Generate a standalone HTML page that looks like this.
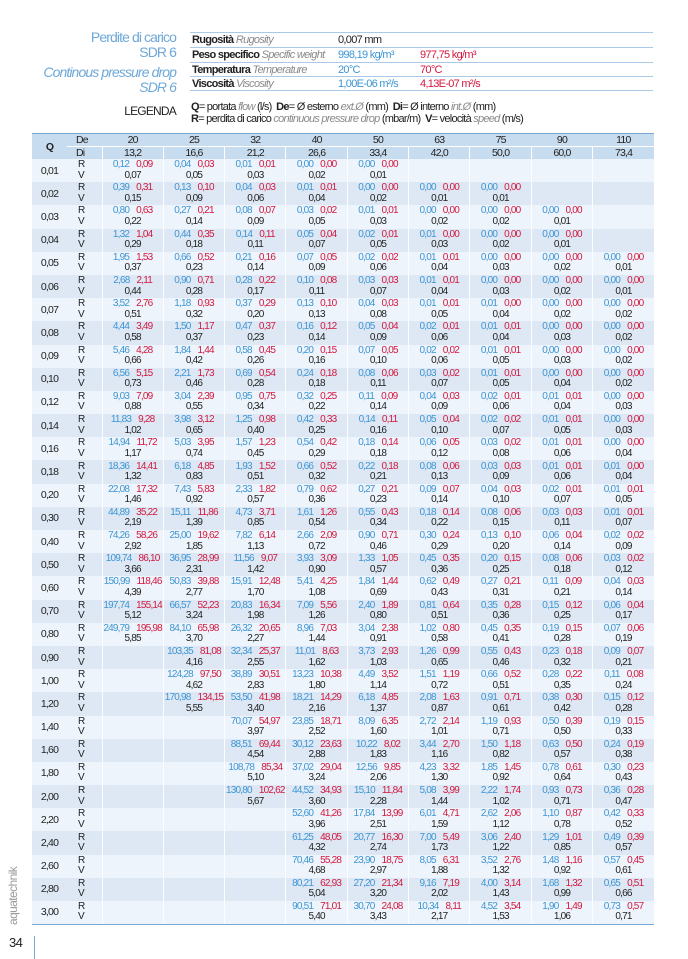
<!DOCTYPE html>
<html><head><meta charset="utf-8">
<style>
*{margin:0;padding:0;box-sizing:border-box}
body{width:688px;height:959px;background:#fff;position:relative;overflow:hidden;font-family:"Liberation Sans Narrow","Liberation Sans",sans-serif;color:#222;letter-spacing:-0.6px}
.lt{position:absolute;right:512px;color:#6ea8d8;font-size:14px;text-align:right;white-space:nowrap;line-height:15px;letter-spacing:-0.9px}
.it{font-style:italic}
#props{position:absolute;left:190px;top:32px;width:463px}
#props div{height:14.75px;border-top:1px solid #a9c9e6;font-size:11px;line-height:14px;position:relative;white-space:nowrap;letter-spacing:-0.7px}
#props div:last-child{border-bottom:1px solid #a9c9e6}
#props span{position:absolute;top:0}
.g{color:#8a8a8a;font-style:italic;font-weight:normal}
.bl{color:#3d95d4}.rd{color:#d3183f}
#leg{position:absolute;left:191px;top:101px;font-size:11px;line-height:12px;white-space:nowrap;letter-spacing:-0.75px}
#legl{position:absolute;right:512px;top:104px;font-size:12px;letter-spacing:-0.8px}
table{position:absolute;left:32px;top:133px;width:622px;border-collapse:collapse;table-layout:fixed;font-size:10px;letter-spacing:-0.8px}
td{padding:0;text-align:center;vertical-align:middle;overflow:hidden;white-space:nowrap}
thead td{background:#c8dcef;height:12.5px;line-height:12px;font-size:10.5px}
thead tr.de td{border-top:1.5px solid #7aa9d4}
thead tr.di td{border-top:1px solid #fff}
thead tr.di td.c{border-left:1px solid #fff}
tbody tr{height:23.2px}
tbody tr:nth-child(odd) td{background:#eef4fb}
tbody tr:nth-child(even) td{background:#dde8f4}
tbody td.c{border-left:1px solid #fbfdff;line-height:10.5px;padding-top:0}
tbody td.q{font-size:10.5px}
tbody td.rv{text-align:left;padding-left:11px;line-height:10.5px}
tbody tr:last-child td{border-bottom:1.5px solid #7aa9d4}
b{font-weight:normal;color:#3d95d4;margin-right:7px}
i{font-style:normal;color:#d3183f}
</style></head><body>
<div class="lt" style="top:30px">Perdite di carico</div>
<div class="lt" style="top:45px">SDR 6</div>
<div class="lt it" style="top:65px">Continous pressure drop</div>
<div class="lt it" style="top:80px">SDR 6</div>
<div id="props">
<div><span style="left:2px"><strong>Rugosità</strong> <span class="g" style="position:static">Rugosity</span></span><span style="left:148px">0,007 mm</span></div>
<div><span style="left:2px"><strong>Peso specifico</strong> <span class="g" style="position:static">Specific weight</span></span><span class="bl" style="left:148px">998,19 kg/m³</span><span class="rd" style="left:230px">977,75 kg/m³</span></div>
<div><span style="left:2px"><strong>Temperatura</strong> <span class="g" style="position:static">Temperature</span></span><span class="bl" style="left:148px">20°C</span><span class="rd" style="left:230px">70°C</span></div>
<div><span style="left:2px"><strong>Viscosità</strong> <span class="g" style="position:static">Viscosity</span></span><span class="bl" style="left:148px">1,00E-06 m²/s</span><span class="rd" style="left:230px">4,13E-07 m²/s</span></div>
</div>
<div id="legl">LEGENDA</div>
<div id="leg"><strong>Q</strong>= portata <span class="g">flow</span> (l/s) &nbsp;<strong>De</strong>= Ø esterno <span class="g">ext.Ø</span> (mm) &nbsp;<strong>Di</strong>= Ø interno <span class="g">int.Ø</span> (mm)<br><strong>R</strong>= perdita di carico <span class="g">continuous pressure drop</span> (mbar/m) &nbsp;<strong>V</strong>= velocità <span class="g">speed</span> (m/s)</div>
<div style="position:absolute;left:6px;top:925px;transform:rotate(-90deg);transform-origin:0 0;color:#9a9a9a;font-size:12px;white-space:nowrap">aquatechnik</div>
<div style="position:absolute;left:9px;top:935px;font-size:13px">34</div>
<div style="position:absolute;left:34px;top:936px;width:1px;height:23px;background:#6ea8d8"></div>
<table>
<colgroup><col style="width:35px"><col style="width:35px"><col span="9" style="width:61.33px"></colgroup>
<thead>
<tr class="de"><td rowspan="2" style="font-weight:bold">Q</td><td style="text-align:left;padding-left:9px">De</td><td>20</td><td>25</td><td>32</td><td>40</td><td>50</td><td>63</td><td>75</td><td>90</td><td>110</td></tr>
<tr class="di"><td style="text-align:left;padding-left:9px">Di</td><td class="c">13,2</td><td class="c">16,6</td><td class="c">21,2</td><td class="c">26,6</td><td class="c">33,4</td><td class="c">42,0</td><td class="c">50,0</td><td class="c">60,0</td><td class="c">73,4</td></tr>
</thead>
<tbody>
<tr><td class="q">0,01</td><td class="rv">R<br>V</td><td class="c"><b>0,12</b><i>0,09</i><br>0,07</td><td class="c"><b>0,04</b><i>0,03</i><br>0,05</td><td class="c"><b>0,01</b><i>0,01</i><br>0,03</td><td class="c"><b>0,00</b><i>0,00</i><br>0,02</td><td class="c"><b>0,00</b><i>0,00</i><br>0,01</td><td class="c"></td><td class="c"></td><td class="c"></td><td class="c"></td></tr>
<tr><td class="q">0,02</td><td class="rv">R<br>V</td><td class="c"><b>0,39</b><i>0,31</i><br>0,15</td><td class="c"><b>0,13</b><i>0,10</i><br>0,09</td><td class="c"><b>0,04</b><i>0,03</i><br>0,06</td><td class="c"><b>0,01</b><i>0,01</i><br>0,04</td><td class="c"><b>0,00</b><i>0,00</i><br>0,02</td><td class="c"><b>0,00</b><i>0,00</i><br>0,01</td><td class="c"><b>0,00</b><i>0,00</i><br>0,01</td><td class="c"></td><td class="c"></td></tr>
<tr><td class="q">0,03</td><td class="rv">R<br>V</td><td class="c"><b>0,80</b><i>0,63</i><br>0,22</td><td class="c"><b>0,27</b><i>0,21</i><br>0,14</td><td class="c"><b>0,08</b><i>0,07</i><br>0,09</td><td class="c"><b>0,03</b><i>0,02</i><br>0,05</td><td class="c"><b>0,01</b><i>0,01</i><br>0,03</td><td class="c"><b>0,00</b><i>0,00</i><br>0,02</td><td class="c"><b>0,00</b><i>0,00</i><br>0,02</td><td class="c"><b>0,00</b><i>0,00</i><br>0,01</td><td class="c"></td></tr>
<tr><td class="q">0,04</td><td class="rv">R<br>V</td><td class="c"><b>1,32</b><i>1,04</i><br>0,29</td><td class="c"><b>0,44</b><i>0,35</i><br>0,18</td><td class="c"><b>0,14</b><i>0,11</i><br>0,11</td><td class="c"><b>0,05</b><i>0,04</i><br>0,07</td><td class="c"><b>0,02</b><i>0,01</i><br>0,05</td><td class="c"><b>0,01</b><i>0,00</i><br>0,03</td><td class="c"><b>0,00</b><i>0,00</i><br>0,02</td><td class="c"><b>0,00</b><i>0,00</i><br>0,01</td><td class="c"></td></tr>
<tr><td class="q">0,05</td><td class="rv">R<br>V</td><td class="c"><b>1,95</b><i>1,53</i><br>0,37</td><td class="c"><b>0,66</b><i>0,52</i><br>0,23</td><td class="c"><b>0,21</b><i>0,16</i><br>0,14</td><td class="c"><b>0,07</b><i>0,05</i><br>0,09</td><td class="c"><b>0,02</b><i>0,02</i><br>0,06</td><td class="c"><b>0,01</b><i>0,01</i><br>0,04</td><td class="c"><b>0,00</b><i>0,00</i><br>0,03</td><td class="c"><b>0,00</b><i>0,00</i><br>0,02</td><td class="c"><b>0,00</b><i>0,00</i><br>0,01</td></tr>
<tr><td class="q">0,06</td><td class="rv">R<br>V</td><td class="c"><b>2,68</b><i>2,11</i><br>0,44</td><td class="c"><b>0,90</b><i>0,71</i><br>0,28</td><td class="c"><b>0,28</b><i>0,22</i><br>0,17</td><td class="c"><b>0,10</b><i>0,08</i><br>0,11</td><td class="c"><b>0,03</b><i>0,03</i><br>0,07</td><td class="c"><b>0,01</b><i>0,01</i><br>0,04</td><td class="c"><b>0,00</b><i>0,00</i><br>0,03</td><td class="c"><b>0,00</b><i>0,00</i><br>0,02</td><td class="c"><b>0,00</b><i>0,00</i><br>0,01</td></tr>
<tr><td class="q">0,07</td><td class="rv">R<br>V</td><td class="c"><b>3,52</b><i>2,76</i><br>0,51</td><td class="c"><b>1,18</b><i>0,93</i><br>0,32</td><td class="c"><b>0,37</b><i>0,29</i><br>0,20</td><td class="c"><b>0,13</b><i>0,10</i><br>0,13</td><td class="c"><b>0,04</b><i>0,03</i><br>0,08</td><td class="c"><b>0,01</b><i>0,01</i><br>0,05</td><td class="c"><b>0,01</b><i>0,00</i><br>0,04</td><td class="c"><b>0,00</b><i>0,00</i><br>0,02</td><td class="c"><b>0,00</b><i>0,00</i><br>0,02</td></tr>
<tr><td class="q">0,08</td><td class="rv">R<br>V</td><td class="c"><b>4,44</b><i>3,49</i><br>0,58</td><td class="c"><b>1,50</b><i>1,17</i><br>0,37</td><td class="c"><b>0,47</b><i>0,37</i><br>0,23</td><td class="c"><b>0,16</b><i>0,12</i><br>0,14</td><td class="c"><b>0,05</b><i>0,04</i><br>0,09</td><td class="c"><b>0,02</b><i>0,01</i><br>0,06</td><td class="c"><b>0,01</b><i>0,01</i><br>0,04</td><td class="c"><b>0,00</b><i>0,00</i><br>0,03</td><td class="c"><b>0,00</b><i>0,00</i><br>0,02</td></tr>
<tr><td class="q">0,09</td><td class="rv">R<br>V</td><td class="c"><b>5,46</b><i>4,28</i><br>0,66</td><td class="c"><b>1,84</b><i>1,44</i><br>0,42</td><td class="c"><b>0,58</b><i>0,45</i><br>0,26</td><td class="c"><b>0,20</b><i>0,15</i><br>0,16</td><td class="c"><b>0,07</b><i>0,05</i><br>0,10</td><td class="c"><b>0,02</b><i>0,02</i><br>0,06</td><td class="c"><b>0,01</b><i>0,01</i><br>0,05</td><td class="c"><b>0,00</b><i>0,00</i><br>0,03</td><td class="c"><b>0,00</b><i>0,00</i><br>0,02</td></tr>
<tr><td class="q">0,10</td><td class="rv">R<br>V</td><td class="c"><b>6,56</b><i>5,15</i><br>0,73</td><td class="c"><b>2,21</b><i>1,73</i><br>0,46</td><td class="c"><b>0,69</b><i>0,54</i><br>0,28</td><td class="c"><b>0,24</b><i>0,18</i><br>0,18</td><td class="c"><b>0,08</b><i>0,06</i><br>0,11</td><td class="c"><b>0,03</b><i>0,02</i><br>0,07</td><td class="c"><b>0,01</b><i>0,01</i><br>0,05</td><td class="c"><b>0,00</b><i>0,00</i><br>0,04</td><td class="c"><b>0,00</b><i>0,00</i><br>0,02</td></tr>
<tr><td class="q">0,12</td><td class="rv">R<br>V</td><td class="c"><b>9,03</b><i>7,09</i><br>0,88</td><td class="c"><b>3,04</b><i>2,39</i><br>0,55</td><td class="c"><b>0,95</b><i>0,75</i><br>0,34</td><td class="c"><b>0,32</b><i>0,25</i><br>0,22</td><td class="c"><b>0,11</b><i>0,09</i><br>0,14</td><td class="c"><b>0,04</b><i>0,03</i><br>0,09</td><td class="c"><b>0,02</b><i>0,01</i><br>0,06</td><td class="c"><b>0,01</b><i>0,01</i><br>0,04</td><td class="c"><b>0,00</b><i>0,00</i><br>0,03</td></tr>
<tr><td class="q">0,14</td><td class="rv">R<br>V</td><td class="c"><b>11,83</b><i>9,28</i><br>1,02</td><td class="c"><b>3,98</b><i>3,12</i><br>0,65</td><td class="c"><b>1,25</b><i>0,98</i><br>0,40</td><td class="c"><b>0,42</b><i>0,33</i><br>0,25</td><td class="c"><b>0,14</b><i>0,11</i><br>0,16</td><td class="c"><b>0,05</b><i>0,04</i><br>0,10</td><td class="c"><b>0,02</b><i>0,02</i><br>0,07</td><td class="c"><b>0,01</b><i>0,01</i><br>0,05</td><td class="c"><b>0,00</b><i>0,00</i><br>0,03</td></tr>
<tr><td class="q">0,16</td><td class="rv">R<br>V</td><td class="c"><b>14,94</b><i>11,72</i><br>1,17</td><td class="c"><b>5,03</b><i>3,95</i><br>0,74</td><td class="c"><b>1,57</b><i>1,23</i><br>0,45</td><td class="c"><b>0,54</b><i>0,42</i><br>0,29</td><td class="c"><b>0,18</b><i>0,14</i><br>0,18</td><td class="c"><b>0,06</b><i>0,05</i><br>0,12</td><td class="c"><b>0,03</b><i>0,02</i><br>0,08</td><td class="c"><b>0,01</b><i>0,01</i><br>0,06</td><td class="c"><b>0,00</b><i>0,00</i><br>0,04</td></tr>
<tr><td class="q">0,18</td><td class="rv">R<br>V</td><td class="c"><b>18,36</b><i>14,41</i><br>1,32</td><td class="c"><b>6,18</b><i>4,85</i><br>0,83</td><td class="c"><b>1,93</b><i>1,52</i><br>0,51</td><td class="c"><b>0,66</b><i>0,52</i><br>0,32</td><td class="c"><b>0,22</b><i>0,18</i><br>0,21</td><td class="c"><b>0,08</b><i>0,06</i><br>0,13</td><td class="c"><b>0,03</b><i>0,03</i><br>0,09</td><td class="c"><b>0,01</b><i>0,01</i><br>0,06</td><td class="c"><b>0,01</b><i>0,00</i><br>0,04</td></tr>
<tr><td class="q">0,20</td><td class="rv">R<br>V</td><td class="c"><b>22,08</b><i>17,32</i><br>1,46</td><td class="c"><b>7,43</b><i>5,83</i><br>0,92</td><td class="c"><b>2,33</b><i>1,82</i><br>0,57</td><td class="c"><b>0,79</b><i>0,62</i><br>0,36</td><td class="c"><b>0,27</b><i>0,21</i><br>0,23</td><td class="c"><b>0,09</b><i>0,07</i><br>0,14</td><td class="c"><b>0,04</b><i>0,03</i><br>0,10</td><td class="c"><b>0,02</b><i>0,01</i><br>0,07</td><td class="c"><b>0,01</b><i>0,01</i><br>0,05</td></tr>
<tr><td class="q">0,30</td><td class="rv">R<br>V</td><td class="c"><b>44,89</b><i>35,22</i><br>2,19</td><td class="c"><b>15,11</b><i>11,86</i><br>1,39</td><td class="c"><b>4,73</b><i>3,71</i><br>0,85</td><td class="c"><b>1,61</b><i>1,26</i><br>0,54</td><td class="c"><b>0,55</b><i>0,43</i><br>0,34</td><td class="c"><b>0,18</b><i>0,14</i><br>0,22</td><td class="c"><b>0,08</b><i>0,06</i><br>0,15</td><td class="c"><b>0,03</b><i>0,03</i><br>0,11</td><td class="c"><b>0,01</b><i>0,01</i><br>0,07</td></tr>
<tr><td class="q">0,40</td><td class="rv">R<br>V</td><td class="c"><b>74,26</b><i>58,26</i><br>2,92</td><td class="c"><b>25,00</b><i>19,62</i><br>1,85</td><td class="c"><b>7,82</b><i>6,14</i><br>1,13</td><td class="c"><b>2,66</b><i>2,09</i><br>0,72</td><td class="c"><b>0,90</b><i>0,71</i><br>0,46</td><td class="c"><b>0,30</b><i>0,24</i><br>0,29</td><td class="c"><b>0,13</b><i>0,10</i><br>0,20</td><td class="c"><b>0,06</b><i>0,04</i><br>0,14</td><td class="c"><b>0,02</b><i>0,02</i><br>0,09</td></tr>
<tr><td class="q">0,50</td><td class="rv">R<br>V</td><td class="c"><b>109,74</b><i>86,10</i><br>3,66</td><td class="c"><b>36,95</b><i>28,99</i><br>2,31</td><td class="c"><b>11,56</b><i>9,07</i><br>1,42</td><td class="c"><b>3,93</b><i>3,09</i><br>0,90</td><td class="c"><b>1,33</b><i>1,05</i><br>0,57</td><td class="c"><b>0,45</b><i>0,35</i><br>0,36</td><td class="c"><b>0,20</b><i>0,15</i><br>0,25</td><td class="c"><b>0,08</b><i>0,06</i><br>0,18</td><td class="c"><b>0,03</b><i>0,02</i><br>0,12</td></tr>
<tr><td class="q">0,60</td><td class="rv">R<br>V</td><td class="c"><b>150,99</b><i>118,46</i><br>4,39</td><td class="c"><b>50,83</b><i>39,88</i><br>2,77</td><td class="c"><b>15,91</b><i>12,48</i><br>1,70</td><td class="c"><b>5,41</b><i>4,25</i><br>1,08</td><td class="c"><b>1,84</b><i>1,44</i><br>0,69</td><td class="c"><b>0,62</b><i>0,49</i><br>0,43</td><td class="c"><b>0,27</b><i>0,21</i><br>0,31</td><td class="c"><b>0,11</b><i>0,09</i><br>0,21</td><td class="c"><b>0,04</b><i>0,03</i><br>0,14</td></tr>
<tr><td class="q">0,70</td><td class="rv">R<br>V</td><td class="c"><b>197,74</b><i>155,14</i><br>5,12</td><td class="c"><b>66,57</b><i>52,23</i><br>3,24</td><td class="c"><b>20,83</b><i>16,34</i><br>1,98</td><td class="c"><b>7,09</b><i>5,56</i><br>1,26</td><td class="c"><b>2,40</b><i>1,89</i><br>0,80</td><td class="c"><b>0,81</b><i>0,64</i><br>0,51</td><td class="c"><b>0,35</b><i>0,28</i><br>0,36</td><td class="c"><b>0,15</b><i>0,12</i><br>0,25</td><td class="c"><b>0,06</b><i>0,04</i><br>0,17</td></tr>
<tr><td class="q">0,80</td><td class="rv">R<br>V</td><td class="c"><b>249,79</b><i>195,98</i><br>5,85</td><td class="c"><b>84,10</b><i>65,98</i><br>3,70</td><td class="c"><b>26,32</b><i>20,65</i><br>2,27</td><td class="c"><b>8,96</b><i>7,03</i><br>1,44</td><td class="c"><b>3,04</b><i>2,38</i><br>0,91</td><td class="c"><b>1,02</b><i>0,80</i><br>0,58</td><td class="c"><b>0,45</b><i>0,35</i><br>0,41</td><td class="c"><b>0,19</b><i>0,15</i><br>0,28</td><td class="c"><b>0,07</b><i>0,06</i><br>0,19</td></tr>
<tr><td class="q">0,90</td><td class="rv">R<br>V</td><td class="c"></td><td class="c"><b>103,35</b><i>81,08</i><br>4,16</td><td class="c"><b>32,34</b><i>25,37</i><br>2,55</td><td class="c"><b>11,01</b><i>8,63</i><br>1,62</td><td class="c"><b>3,73</b><i>2,93</i><br>1,03</td><td class="c"><b>1,26</b><i>0,99</i><br>0,65</td><td class="c"><b>0,55</b><i>0,43</i><br>0,46</td><td class="c"><b>0,23</b><i>0,18</i><br>0,32</td><td class="c"><b>0,09</b><i>0,07</i><br>0,21</td></tr>
<tr><td class="q">1,00</td><td class="rv">R<br>V</td><td class="c"></td><td class="c"><b>124,28</b><i>97,50</i><br>4,62</td><td class="c"><b>38,89</b><i>30,51</i><br>2,83</td><td class="c"><b>13,23</b><i>10,38</i><br>1,80</td><td class="c"><b>4,49</b><i>3,52</i><br>1,14</td><td class="c"><b>1,51</b><i>1,19</i><br>0,72</td><td class="c"><b>0,66</b><i>0,52</i><br>0,51</td><td class="c"><b>0,28</b><i>0,22</i><br>0,35</td><td class="c"><b>0,11</b><i>0,08</i><br>0,24</td></tr>
<tr><td class="q">1,20</td><td class="rv">R<br>V</td><td class="c"></td><td class="c"><b>170,98</b><i>134,15</i><br>5,55</td><td class="c"><b>53,50</b><i>41,98</i><br>3,40</td><td class="c"><b>18,21</b><i>14,29</i><br>2,16</td><td class="c"><b>6,18</b><i>4,85</i><br>1,37</td><td class="c"><b>2,08</b><i>1,63</i><br>0,87</td><td class="c"><b>0,91</b><i>0,71</i><br>0,61</td><td class="c"><b>0,38</b><i>0,30</i><br>0,42</td><td class="c"><b>0,15</b><i>0,12</i><br>0,28</td></tr>
<tr><td class="q">1,40</td><td class="rv">R<br>V</td><td class="c"></td><td class="c"></td><td class="c"><b>70,07</b><i>54,97</i><br>3,97</td><td class="c"><b>23,85</b><i>18,71</i><br>2,52</td><td class="c"><b>8,09</b><i>6,35</i><br>1,60</td><td class="c"><b>2,72</b><i>2,14</i><br>1,01</td><td class="c"><b>1,19</b><i>0,93</i><br>0,71</td><td class="c"><b>0,50</b><i>0,39</i><br>0,50</td><td class="c"><b>0,19</b><i>0,15</i><br>0,33</td></tr>
<tr><td class="q">1,60</td><td class="rv">R<br>V</td><td class="c"></td><td class="c"></td><td class="c"><b>88,51</b><i>69,44</i><br>4,54</td><td class="c"><b>30,12</b><i>23,63</i><br>2,88</td><td class="c"><b>10,22</b><i>8,02</i><br>1,83</td><td class="c"><b>3,44</b><i>2,70</i><br>1,16</td><td class="c"><b>1,50</b><i>1,18</i><br>0,82</td><td class="c"><b>0,63</b><i>0,50</i><br>0,57</td><td class="c"><b>0,24</b><i>0,19</i><br>0,38</td></tr>
<tr><td class="q">1,80</td><td class="rv">R<br>V</td><td class="c"></td><td class="c"></td><td class="c"><b>108,78</b><i>85,34</i><br>5,10</td><td class="c"><b>37,02</b><i>29,04</i><br>3,24</td><td class="c"><b>12,56</b><i>9,85</i><br>2,06</td><td class="c"><b>4,23</b><i>3,32</i><br>1,30</td><td class="c"><b>1,85</b><i>1,45</i><br>0,92</td><td class="c"><b>0,78</b><i>0,61</i><br>0,64</td><td class="c"><b>0,30</b><i>0,23</i><br>0,43</td></tr>
<tr><td class="q">2,00</td><td class="rv">R<br>V</td><td class="c"></td><td class="c"></td><td class="c"><b>130,80</b><i>102,62</i><br>5,67</td><td class="c"><b>44,52</b><i>34,93</i><br>3,60</td><td class="c"><b>15,10</b><i>11,84</i><br>2,28</td><td class="c"><b>5,08</b><i>3,99</i><br>1,44</td><td class="c"><b>2,22</b><i>1,74</i><br>1,02</td><td class="c"><b>0,93</b><i>0,73</i><br>0,71</td><td class="c"><b>0,36</b><i>0,28</i><br>0,47</td></tr>
<tr><td class="q">2,20</td><td class="rv">R<br>V</td><td class="c"></td><td class="c"></td><td class="c"></td><td class="c"><b>52,60</b><i>41,26</i><br>3,96</td><td class="c"><b>17,84</b><i>13,99</i><br>2,51</td><td class="c"><b>6,01</b><i>4,71</i><br>1,59</td><td class="c"><b>2,62</b><i>2,06</i><br>1,12</td><td class="c"><b>1,10</b><i>0,87</i><br>0,78</td><td class="c"><b>0,42</b><i>0,33</i><br>0,52</td></tr>
<tr><td class="q">2,40</td><td class="rv">R<br>V</td><td class="c"></td><td class="c"></td><td class="c"></td><td class="c"><b>61,25</b><i>48,05</i><br>4,32</td><td class="c"><b>20,77</b><i>16,30</i><br>2,74</td><td class="c"><b>7,00</b><i>5,49</i><br>1,73</td><td class="c"><b>3,06</b><i>2,40</i><br>1,22</td><td class="c"><b>1,29</b><i>1,01</i><br>0,85</td><td class="c"><b>0,49</b><i>0,39</i><br>0,57</td></tr>
<tr><td class="q">2,60</td><td class="rv">R<br>V</td><td class="c"></td><td class="c"></td><td class="c"></td><td class="c"><b>70,46</b><i>55,28</i><br>4,68</td><td class="c"><b>23,90</b><i>18,75</i><br>2,97</td><td class="c"><b>8,05</b><i>6,31</i><br>1,88</td><td class="c"><b>3,52</b><i>2,76</i><br>1,32</td><td class="c"><b>1,48</b><i>1,16</i><br>0,92</td><td class="c"><b>0,57</b><i>0,45</i><br>0,61</td></tr>
<tr><td class="q">2,80</td><td class="rv">R<br>V</td><td class="c"></td><td class="c"></td><td class="c"></td><td class="c"><b>80,21</b><i>62,93</i><br>5,04</td><td class="c"><b>27,20</b><i>21,34</i><br>3,20</td><td class="c"><b>9,16</b><i>7,19</i><br>2,02</td><td class="c"><b>4,00</b><i>3,14</i><br>1,43</td><td class="c"><b>1,68</b><i>1,32</i><br>0,99</td><td class="c"><b>0,65</b><i>0,51</i><br>0,66</td></tr>
<tr><td class="q">3,00</td><td class="rv">R<br>V</td><td class="c"></td><td class="c"></td><td class="c"></td><td class="c"><b>90,51</b><i>71,01</i><br>5,40</td><td class="c"><b>30,70</b><i>24,08</i><br>3,43</td><td class="c"><b>10,34</b><i>8,11</i><br>2,17</td><td class="c"><b>4,52</b><i>3,54</i><br>1,53</td><td class="c"><b>1,90</b><i>1,49</i><br>1,06</td><td class="c"><b>0,73</b><i>0,57</i><br>0,71</td></tr>
</tbody>
</table>
</body></html>
